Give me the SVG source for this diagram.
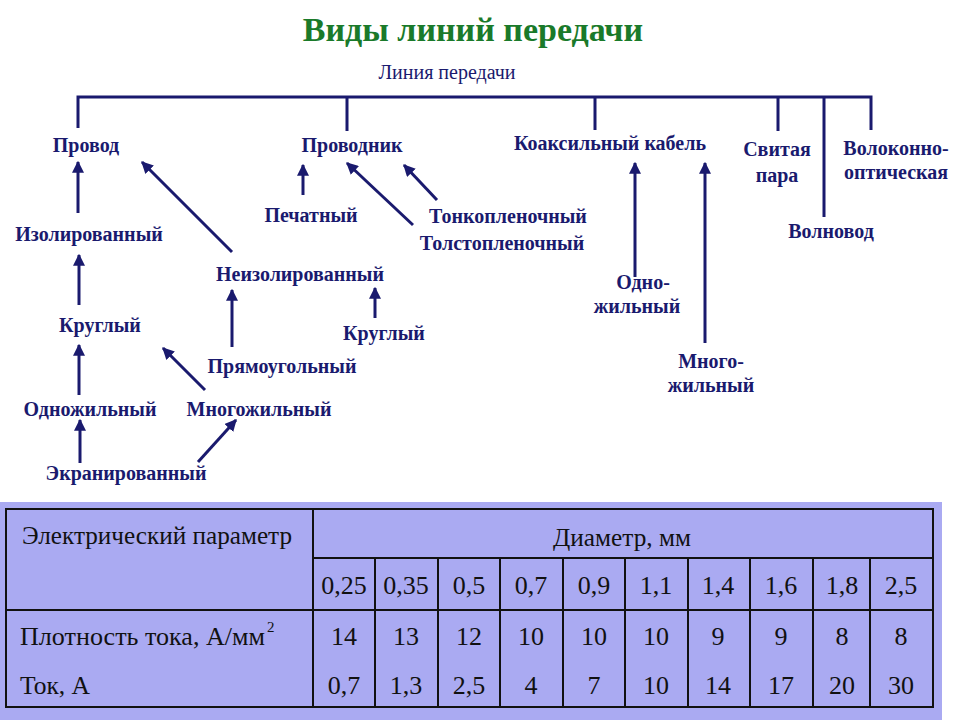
<svg xmlns="http://www.w3.org/2000/svg" width="960" height="720" viewBox="0 0 960 720">
<defs>
<marker id="ah" viewBox="0 0 10 10" refX="9" refY="5" markerWidth="4" markerHeight="4" orient="auto" markerUnits="strokeWidth"><path d="M0,0 L10,5 L0,10 z" fill="#1a1a6e"/></marker>
<style>
.t{font-family:"Liberation Serif",serif;font-weight:bold;font-size:20px;fill:#1a1a6e;text-anchor:middle}
.c{stroke:#1a1a6e;stroke-width:3;fill:none}
.a{stroke:#1a1a6e;stroke-width:3;fill:none;marker-end:url(#ah)}
.tb{font-family:"Liberation Serif",serif;font-size:26px;fill:#111;text-anchor:middle}
.ts{font-family:"Liberation Serif",serif;font-size:26px;fill:#111;text-anchor:start}
.g{stroke:#111;stroke-width:2}
</style>
</defs>
<rect width="960" height="720" fill="#fff"/>
<text x="473" y="41" font-family="Liberation Serif,serif" font-weight="bold" font-size="34" fill="#1a7a2a" text-anchor="middle">Виды линий передачи</text>
<g id="connectors">
<path class="c" d="M78,128 V97 H871 V130 M347,97 V131 M595,97 V130 M778,97 V131 M824,97 V217"/>
<line class="a" x1="78" y1="213" x2="78" y2="162"/>
<line class="a" x1="79" y1="305" x2="79" y2="255"/>
<line class="a" x1="79" y1="395" x2="79" y2="345"/>
<line class="a" x1="80" y1="463" x2="80" y2="420"/>
<line class="a" x1="232" y1="252" x2="142" y2="162"/>
<line class="a" x1="232" y1="347" x2="232" y2="290"/>
<line class="a" x1="375" y1="318" x2="375" y2="288"/>
<line class="a" x1="205" y1="390" x2="163" y2="348"/>
<line class="a" x1="198" y1="462" x2="236" y2="420"/>
<line class="a" x1="303" y1="195" x2="303" y2="165"/>
<line class="a" x1="413" y1="225" x2="347" y2="163"/>
<line class="a" x1="437" y1="200" x2="404" y2="165"/>
<line class="a" x1="635" y1="277" x2="635" y2="163"/>
<line class="a" x1="705" y1="343" x2="705" y2="163"/>
</g>
<g id="n-root"><text class="t" x="447" y="79" style="font-weight:normal;font-size:20px">Линия передачи</text></g>
<g id="n-provod"><text class="t" x="86" y="152">Провод</text></g>
<g id="n-provodnik"><text class="t" x="352" y="152">Проводник</text></g>
<g id="n-koax"><text class="t" x="610" y="150">Коаксильный кабель</text></g>
<g id="n-svit"><text class="t" x="777" y="156">Свитая</text><text class="t" x="777" y="182">пара</text></g>
<g id="n-volok"><text class="t" x="896" y="155">Волоконно-</text><text class="t" x="896" y="179">оптическая</text></g>
<g id="n-volnovod"><text class="t" x="831" y="238">Волновод</text></g>
<g id="n-pech"><text class="t" x="311" y="222">Печатный</text></g>
<g id="n-tonk"><text class="t" x="508" y="223">Тонкопленочный</text></g>
<g id="n-tolst"><text class="t" x="502" y="250">Толстопленочный</text></g>
<g id="n-izol"><text class="t" x="89" y="241">Изолированный</text></g>
<g id="n-neizol"><text class="t" x="300" y="281">Неизолированный</text></g>
<g id="n-krug1"><text class="t" x="100" y="332">Круглый</text></g>
<g id="n-krug2"><text class="t" x="384" y="340">Круглый</text></g>
<g id="n-pryam"><text class="t" x="282" y="373">Прямоугольный</text></g>
<g id="n-odno"><text class="t" x="90" y="416">Одножильный</text></g>
<g id="n-mnogo"><text class="t" x="259" y="416">Многожильный</text></g>
<g id="n-ekran"><text class="t" x="126" y="480">Экранированный</text></g>
<g id="n-kodno"><text class="t" x="643" y="289">Одно-</text><text class="t" x="637" y="313">жильный</text></g>
<g id="n-kmnogo"><text class="t" x="711" y="368">Много-</text><text class="t" x="711" y="392">жильный</text></g>
<g id="table">
<rect x="0" y="502" width="942" height="218" fill="#aaaaf2"/>
<rect x="6" y="509" width="927" height="198" fill="none" class="g" stroke-width="3"/>
<line class="g" x1="313" y1="509" x2="313" y2="707"/>
<line class="g" x1="313" y1="558" x2="933" y2="558"/>
<line class="g" x1="6" y1="610" x2="933" y2="610"/>
<g class="g">
<line x1="375" y1="558" x2="375" y2="707"/><line x1="438" y1="558" x2="438" y2="707"/><line x1="500" y1="558" x2="500" y2="707"/><line x1="563" y1="558" x2="563" y2="707"/><line x1="625" y1="558" x2="625" y2="707"/><line x1="688" y1="558" x2="688" y2="707"/><line x1="750" y1="558" x2="750" y2="707"/><line x1="813" y1="558" x2="813" y2="707"/><line x1="870" y1="558" x2="870" y2="707"/>
</g>
<text class="ts" x="22" y="544" textLength="270" lengthAdjust="spacingAndGlyphs">Электрический параметр</text>
<text class="ts" x="553" y="546" textLength="138" lengthAdjust="spacingAndGlyphs">Диаметр, мм</text>
<text class="ts" x="20" y="645" textLength="245" lengthAdjust="spacingAndGlyphs">Плотность тока, А/мм</text>
<text class="ts" x="267" y="632" style="font-size:15px">2</text>
<text class="ts" x="20" y="694" textLength="70" lengthAdjust="spacingAndGlyphs">Ток, А</text>
<g class="tb">
<text x="344" y="594">0,25</text><text x="406" y="594">0,35</text><text x="469" y="594">0,5</text><text x="531" y="594">0,7</text><text x="594" y="594">0,9</text><text x="656" y="594">1,1</text><text x="718" y="594">1,4</text><text x="781" y="594">1,6</text><text x="842" y="594">1,8</text><text x="901" y="594">2,5</text>
<text x="344" y="645">14</text><text x="406" y="645">13</text><text x="469" y="645">12</text><text x="531" y="645">10</text><text x="594" y="645">10</text><text x="656" y="645">10</text><text x="718" y="645">9</text><text x="781" y="645">9</text><text x="842" y="645">8</text><text x="901" y="645">8</text>
<text x="344" y="694">0,7</text><text x="406" y="694">1,3</text><text x="469" y="694">2,5</text><text x="531" y="694">4</text><text x="594" y="694">7</text><text x="656" y="694">10</text><text x="718" y="694">14</text><text x="781" y="694">17</text><text x="842" y="694">20</text><text x="901" y="694">30</text>
</g>
</g>
</svg>
